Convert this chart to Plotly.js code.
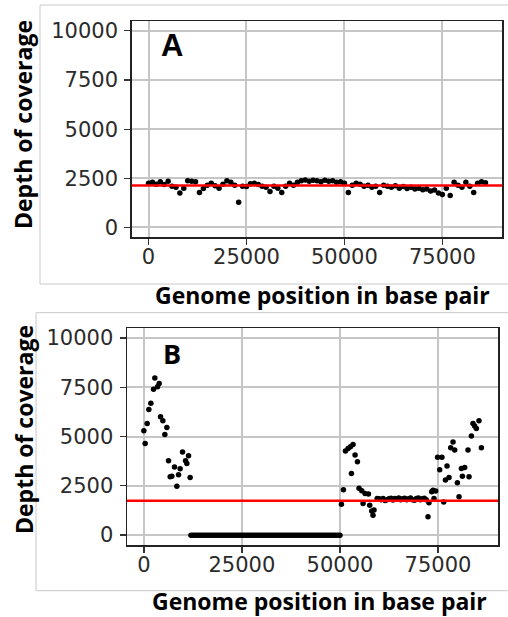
<!DOCTYPE html>
<html>
<head>
<meta charset="utf-8">
<script src="https://cdn.plot.ly/plotly-3.0.1.min.js"></script>
<style>html,body{margin:0;padding:0;background:#fff;}#chart{width:508px;height:617px;}</style>
</head>
<body>
<div id="chart"></div>
<script>
// ---- Panel A data (genome position, depth of coverage) ----
const posA = [0,1000,2000,3000,4000,5000,6000,7000,8000,9000,10000,11000,12000,13000,14000,15000,16000,17000,18000,19000,20000,21000,22000,23000,24000,25000,26000,27000,28000,29000,30000,31000,32000,33000,34000,35000,36000,37000,38000,39000,40000,41000,42000,43000,44000,45000,46000,47000,48000,49000,50000,51000,52000,53000,54000,55000,56000,57000,58000,59000,60000,61000,62000,63000,64000,65000,66000,67000,68000,69000,70000,71000,72000,73000,74000,75000,76000,77000,78000,79000,80000,81000,82000,83000,84000,85000,86000];
const depthA = [2250,2300,2200,2320,2180,2350,2100,2050,1750,2000,2380,2350,2330,1780,1980,2150,2250,2120,2000,2200,2380,2300,2150,1280,2100,2080,2220,2250,2180,2100,2050,1830,2100,2000,1780,2100,2250,2150,2300,2380,2420,2350,2400,2380,2330,2400,2350,2380,2300,2320,2250,1780,2150,2250,2200,2100,2150,2050,2100,1780,2150,2100,2050,2120,2000,2080,1980,2050,1950,2000,1920,1950,1850,1900,1750,1680,2000,1620,2300,2150,2050,2300,2100,1780,2250,2330,2280];
const meanA = 2140;

// ---- Panel B data ----
const posB = [0,330,840,1270,1780,2470,2800,3490,3900,4250,4840,5350,5860,6290,6710,7140,7820,8410,8840,9250,9860,10630,10960,11390,11800,
  12000,12500,13000,13500,14000,14500,15000,15500,16000,16500,17000,17500,18000,18500,19000,19500,20000,20500,21000,21500,22000,22500,23000,23500,24000,24500,25000,25500,26000,26500,27000,27500,28000,28500,29000,29500,30000,30500,31000,31500,32000,32500,33000,33500,34000,34500,35000,35500,36000,36500,37000,37500,38000,38500,39000,39500,40000,40500,41000,41500,42000,42500,43000,43500,44000,44500,45000,45500,46000,46500,47000,47500,48000,48500,49000,49500,50000,
  50380,50890,51400,52070,52670,52930,53340,53850,54460,54870,55560,55890,56400,57260,57590,58100,58430,58690,
  59500,60000,60500,61000,61500,62000,62500,63000,63500,64000,64500,65000,65500,66000,66500,67000,67500,68000,68500,69000,69500,70000,70500,71000,71500,72000,
  72450,72700,73390,73730,73980,74410,74900,75430,76000,76450,76900,77300,77810,78240,78830,79260,79940,80360,80970,81220,81810,82650,82910,83510,83920,84350,84780,85450,86060];
const depthB = [5290,4650,5660,6370,6680,7400,7960,7520,7690,6000,5800,5100,5460,3770,2960,2990,3460,2480,3060,3360,4220,3770,3630,4020,2920,
  0,0,0,0,0,0,0,0,0,0,0,0,0,0,0,0,0,0,0,0,0,0,0,0,0,0,0,0,0,0,0,0,0,0,0,0,0,0,0,0,0,0,0,0,0,0,0,0,0,0,0,0,0,0,0,0,0,0,0,0,0,0,0,0,0,0,0,0,0,0,0,0,0,0,0,0,0,
  1560,2300,4270,4390,4480,3130,4600,4060,3720,2380,2250,1610,2110,2080,1520,1220,1010,1270,
  1860,1850,1800,1860,1760,1800,1850,1870,1780,1860,1830,1880,1800,1850,1870,1790,1840,1880,1800,1770,1860,1880,1800,1850,1870,1790,
  930,1640,2200,2280,1860,2240,3950,3320,3950,1680,2800,3500,2920,4430,4720,4310,2650,1940,3380,2990,3430,4310,2960,5020,5660,5530,5410,5800,4430];
const meanB = 1740;

// ---- Axis ticks & labels ----
const xTicks = [0,25000,50000,75000];
const xTickText = ["0","25000","50000","75000"];
const yTicks = [0,2500,5000,7500,10000];
const yTickText = ["0","2500","5000","7500","10000"];
const panelLabels = ["A","B"];
const xTitle = "Genome position in base pair";
const yTitle = "Depth of coverage";

const W = 508, H = 617;
const px = v => v / W;
const py = v => 1 - v / H;

const tickFont = {family: "DejaVu Sans", size: 21, color: "#2b2b2b"};
const titleFont = {family: "Open Sans", size: 23, color: "#000", weight: 700};

function xAxis(dom, anchor) {
  return {domain: dom, anchor: anchor, range: [-4300, 90300], tickvals: xTicks, ticktext: xTickText,
    showgrid: true, gridcolor: "#C6C6C6", gridwidth: 2, zeroline: false,
    showline: true, mirror: true, linecolor: "#222", linewidth: 1.5,
    ticks: "outside", ticklen: 6, tickwidth: 1.3, tickcolor: "#333", tickfont: tickFont, ticklabelstandoff: -6};
}
function yAxis(dom, anchor) {
  return {domain: dom, anchor: anchor, range: [-500, 10500], tickvals: yTicks, ticktext: yTickText,
    showgrid: true, gridcolor: "#C6C6C6", gridwidth: 2, zeroline: false,
    showline: true, mirror: true, linecolor: "#222", linewidth: 1.5,
    ticks: "outside", ticklen: 6, tickwidth: 1.3, tickcolor: "#333", tickfont: tickFont, ticklabelstandoff: 2};
}

const marker = {color: "#000", size: 5.5};
const data = [
  {x: posA, y: depthA, xaxis: "x", yaxis: "y", type: "scatter", mode: "markers", marker: marker, showlegend: false, hoverinfo: "x+y"},
  {x: posB, y: depthB, xaxis: "x2", yaxis: "y2", type: "scatter", mode: "markers", marker: marker, showlegend: false, hoverinfo: "x+y"}
];

const layout = {
  width: W, height: H,
  margin: {l: 0, r: 0, t: 0, b: 0},
  paper_bgcolor: "#fff", plot_bgcolor: "#fff",
  showlegend: false,
  xaxis: xAxis([px(131.7), px(502.3)], "y"),
  yaxis: yAxis([py(237.3), py(21)], "x"),
  xaxis2: xAxis([px(127), px(498)], "y2"),
  yaxis2: yAxis([py(545), py(328)], "x2"),
  shapes: [
    {type: "rect", xref: "paper", yref: "paper", x0: px(40), x1: 1.05, y0: py(284), y1: py(5), line: {color: "#C8C8C8", width: 1}, layer: "below"},
    {type: "rect", xref: "paper", yref: "paper", x0: px(36), x1: 1.05, y0: py(590.7), y1: py(312.7), line: {color: "#C8C8C8", width: 1}, layer: "below"},
    {type: "line", xref: "x domain", yref: "y", x0: 0, x1: 1, y0: meanA, y1: meanA, line: {color: "#FF0000", width: 2.5}},
    {type: "line", xref: "x2 domain", yref: "y2", x0: 0, x1: 1, y0: meanB, y1: meanB, line: {color: "#FF0000", width: 2.5}}
  ],
  annotations: [
    {text: panelLabels[0], xref: "paper", yref: "paper", x: px(171.5), y: py(46), xanchor: "center", yanchor: "middle", showarrow: false,
      font: {family: "Liberation Sans", size: 31, color: "#000", weight: 700}},
    {text: panelLabels[1], xref: "paper", yref: "paper", x: px(172), y: py(354), xanchor: "center", yanchor: "middle", showarrow: false,
      font: {family: "Open Sans", size: 27, color: "#000", weight: 700}},
    {text: yTitle, xref: "paper", yref: "paper", x: px(23), y: py(125), xanchor: "center", yanchor: "middle", textangle: -90, showarrow: false, font: titleFont},
    {text: yTitle, xref: "paper", yref: "paper", x: px(24), y: py(430), xanchor: "center", yanchor: "middle", textangle: -90, showarrow: false, font: titleFont},
    {text: xTitle, xref: "paper", yref: "paper", x: px(322.5), y: py(295), xanchor: "center", yanchor: "middle", showarrow: false, font: titleFont},
    {text: xTitle, xref: "paper", yref: "paper", x: px(319), y: py(601), xanchor: "center", yanchor: "middle", showarrow: false, font: titleFont}
  ]
};

Plotly.newPlot("chart", data, layout, {displayModeBar: false, staticPlot: true});
</script>
</body>
</html>
